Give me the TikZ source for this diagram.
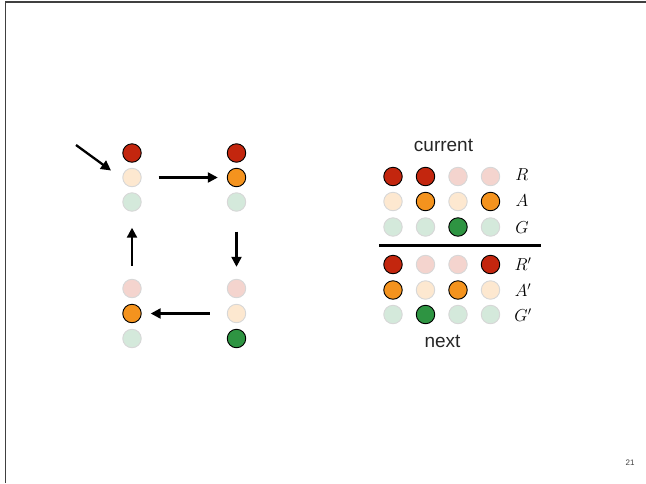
\documentclass[tikz,border=0pt]{standalone}
\usepackage{fontspec}
\setsansfont{Liberation Sans}
\usetikzlibrary{arrows.meta}
\definecolor{cR}{RGB}{195,38,14}
\definecolor{cA}{RGB}{244,147,30}
\definecolor{cG}{RGB}{46,148,66}
\definecolor{fR}{RGB}{244,212,206}
\definecolor{fA}{RGB}{253,232,208}
\definecolor{fG}{RGB}{212,233,219}
\definecolor{fB}{RGB}{215,215,215}
\begin{document}
\begin{tikzpicture}[x=1pt,y=-1pt,
  lamp/.style={circle,minimum size=18.5pt,inner sep=0pt,line width=0.9pt},
  onR/.style={lamp,fill=cR,draw=black},
  onA/.style={lamp,fill=cA,draw=black},
  onG/.style={lamp,fill=cG,draw=black},
  offR/.style={lamp,fill=fR,draw=fB},
  offA/.style={lamp,fill=fA,draw=fB},
  offG/.style={lamp,fill=fG,draw=fB},
  arr/.style={line width=2.3pt,-{Stealth[length=10pt,width=10pt,inset=0pt]}},
  lab/.style={font=\fontsize{17}{17}\selectfont},
  word/.style={font=\sffamily\fontsize{19}{19}\selectfont,text=black!85}]
\useasboundingbox (0,0) rectangle (646,483);
\draw[line width=1.5pt,black!75] (5.5,483) -- (5.5,2) -- (646,2);
% state 1: red
\node[onR]  (s1r) at (132,153) {};
\node[offA] (s1a) at (132,177.5) {};
\node[offG] (s1g) at (132,202) {};
% state 2: red+amber
\node[onR]  (s2r) at (236.5,153) {};
\node[onA]  (s2a) at (236.5,177.5) {};
\node[offG] (s2g) at (236.5,202) {};
% state 3: green
\node[offR] (s3r) at (236.5,288.5) {};
\node[offA] (s3a) at (236.5,313.5) {};
\node[onG]  (s3g) at (236.5,338.5) {};
% state 4: amber
\node[offR] (s4r) at (132,288.5) {};
\node[onA]  (s4a) at (132,313.5) {};
\node[offG] (s4g) at (132,338.5) {};
\coordinate (start) at (76,145);
\coordinate (startend) at (111,170.5);
\draw[arr] (start) -- (startend);
\draw[arr] ([xshift=17pt]s1a.east) -- ([xshift=-9pt]s2a.west);
\draw[arr] ([yshift=-20pt]s2g.south) -- ([yshift=12pt]s3r.north);
\draw[arr] ([xshift=-17pt]s3a.west) -- ([xshift=9pt]s4a.east);
\draw[arr] ([yshift=13pt]s4r.north) -- ([yshift=-16pt]s1g.south);
% table
\node[word] (cur) at (443.5,145) {current};
\node[onR]  (t11) at (393,176.5) {};
\node[onR]  (t12) at (425.5,176.5) {};
\node[offR] (t13) at (458,176.5) {};
\node[offR] (t14) at (490.5,176.5) {};
\node[offA] (t21) at (393,201.5) {};
\node[onA]  (t22) at (425.5,201.5) {};
\node[offA] (t23) at (458,201.5) {};
\node[onA]  (t24) at (490.5,201.5) {};
\node[offG] (t31) at (393,227) {};
\node[offG] (t32) at (425.5,227) {};
\node[onG]  (t33) at (458,227) {};
\node[offG] (t34) at (490.5,227) {};
\node[lab] (lR) at (522,175) {$R$};
\node[lab] (lA) at (522,201) {$A$};
\node[lab] (lG) at (522,228) {$G$};
\coordinate (rl) at (379,245.5);
\coordinate (rr) at (540.5,245.5);
\draw[line width=3.8pt] (rl) -- (rr);
\node[onR]  (u11) at (393,264.5) {};
\node[offR] (u12) at (425.5,264.5) {};
\node[offR] (u13) at (458,264.5) {};
\node[onR]  (u14) at (490.5,264.5) {};
\node[onA]  (u21) at (393,290) {};
\node[offA] (u22) at (425.5,290) {};
\node[onA]  (u23) at (458,290) {};
\node[offA] (u24) at (490.5,290) {};
\node[offG] (u31) at (393,314.5) {};
\node[onG]  (u32) at (425.5,314.5) {};
\node[offG] (u33) at (458,314.5) {};
\node[offG] (u34) at (490.5,314.5) {};
\node[lab] (lR2) at (523,264) {$R'$};
\node[lab] (lA2) at (523,290) {$A'$};
\node[lab] (lG2) at (523,315) {$G'$};
\node[word] (nxt) at (442.5,341) {next};
\node[font=\sffamily\fontsize{8}{8}\selectfont,text=black!75] (pg) at (630,463) {21};
\end{tikzpicture}
\end{document}
